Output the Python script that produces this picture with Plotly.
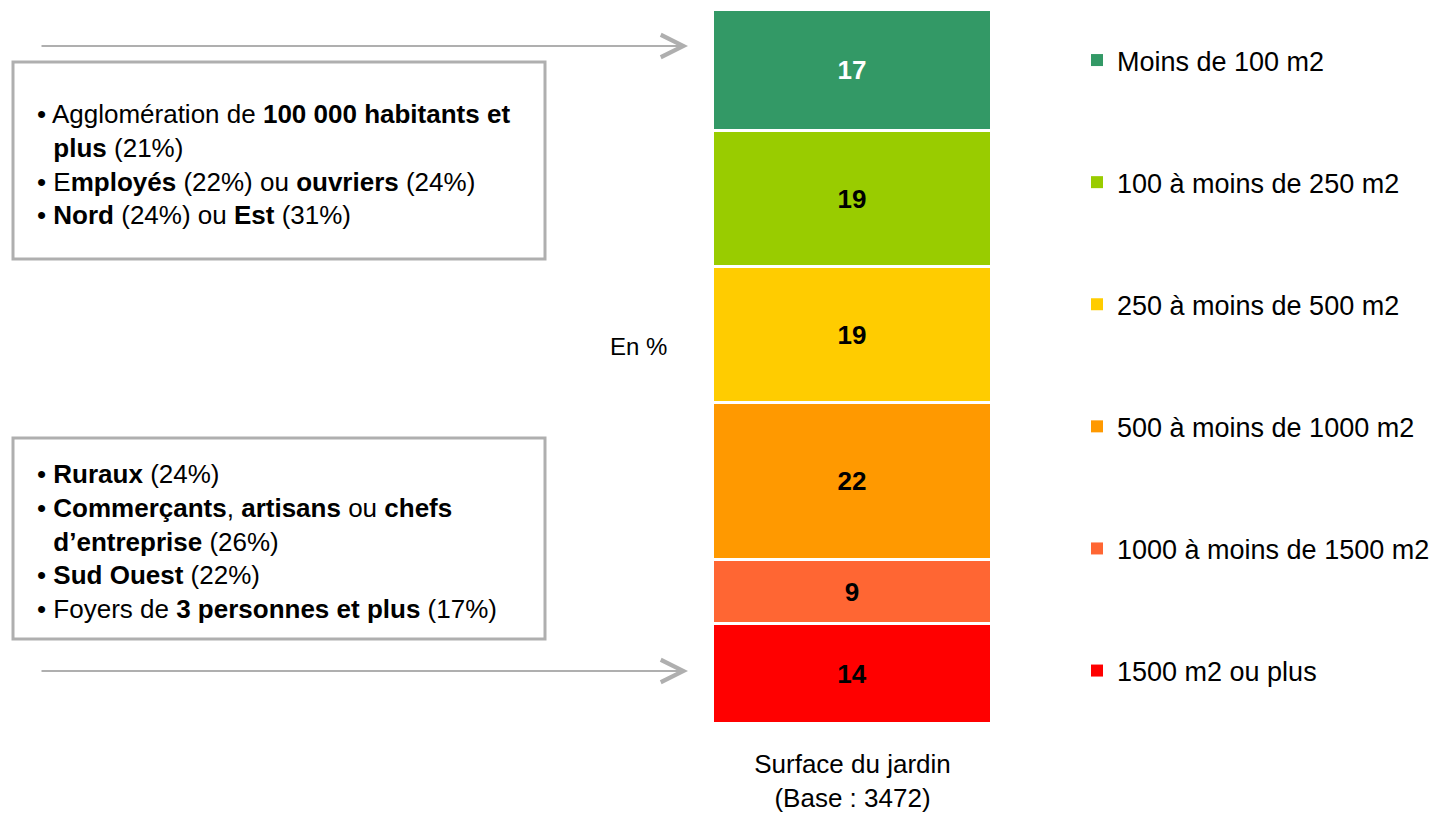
import plotly.graph_objects as go

OFF = 8                      # default page body margin
W, H = 1443 - OFF, 814 - OFF

# Data (bottom to top of the stack)
categories = ["1500 m2 ou plus", "1000 à moins de 1500 m2", "500 à moins de 1000 m2",
              "250 à moins de 500 m2", "100 à moins de 250 m2", "Moins de 100 m2"]
values = [14, 9, 22, 19, 19, 17]
colors = ["#FF0000", "#FF6633", "#FF9900", "#FFCC00", "#99CC00", "#339966"]
text_colors = ["black", "black", "black", "black", "black", "white"]
bar_label = "Surface du jardin<br>(Base : 3472)"

IND = "<span style='color:rgba(0,0,0,0)'>•</span> "
top_box_lines = [
    "• Agglomération de <b>100 000 habitants et</b>",
    IND + "<b>plus</b> (21%)",
    "• E<b>mployés</b> (22%) ou <b>ouvriers</b> (24%)",
    "• <b>Nord</b> (24%) ou <b>Est</b> (31%)",
]
bottom_box_lines = [
    "• <b>Ruraux</b> (24%)",
    "• <b>Commerçants</b>, <b>artisans</b> ou <b>chefs</b>",
    IND + "<b>d’entreprise</b> (26%)",
    "• <b>Sud Ouest</b> (22%)",
    "• Foyers de <b>3 personnes et plus</b> (17%)",
]

FONT = "Liberation Sans, Arial, sans-serif"

fig = go.Figure()
for cat, v, c, tc in zip(categories, values, colors, text_colors):
    fig.add_trace(go.Bar(
        x=[bar_label], y=[v], name=cat, showlegend=False,
        marker=dict(color=c, line=dict(color="white", width=3)),
        text=[str(v)], textposition="inside", insidetextanchor="middle",
        textfont=dict(family=FONT, size=26, color=tc, weight="bold"),
        width=1.0, hoverinfo="name+y",
    ))

# legend entries, top to bottom
for cat, c in zip(categories[::-1], colors[::-1]):
    fig.add_trace(go.Scatter(
        x=[None], y=[None], mode="markers", name=cat, legendgroup=cat,
        marker=dict(symbol="square", size=12, color=c, line=dict(width=0)),
        showlegend=True, hoverinfo="skip",
    ))


def px_x(p):
    return (p - OFF) / W


def px_y(p):
    return 1 - (p - OFF) / H


gray = "#AFAFAF"
shapes = [
    dict(type="rect", xref="paper", yref="paper", x0=px_x(13), x1=px_x(545),
         y0=px_y(259), y1=px_y(62), line=dict(color=gray, width=3)),
    dict(type="rect", xref="paper", yref="paper", x0=px_x(13), x1=px_x(545),
         y0=px_y(639), y1=px_y(438), line=dict(color=gray, width=3)),
]

annotations = [
    dict(xref="paper", yref="paper", x=px_x(35), y=px_y(164), xanchor="left", yanchor="middle",
         align="left", showarrow=False, text="<br>".join(top_box_lines),
         font=dict(family=FONT, size=26, color="black")),
    dict(xref="paper", yref="paper", x=px_x(35), y=px_y(541), xanchor="left", yanchor="middle",
         align="left", showarrow=False, text="<br>".join(bottom_box_lines),
         font=dict(family=FONT, size=26, color="black")),
    dict(xref="paper", yref="paper", x=px_x(638), y=px_y(347), xanchor="center", yanchor="middle",
         showarrow=False, text="En %", font=dict(family=FONT, size=24, color="black")),
]
for yy in (46, 671):
    annotations.append(dict(
        xref="paper", yref="paper", x=px_x(688), y=px_y(yy), text="",
        showarrow=True, axref="pixel", ayref="pixel", ax=-648, ay=0,
        arrowhead=5, arrowsize=2.2, arrowwidth=2, arrowcolor=gray, standoff=0,
    ))

fig.update_layout(
    width=W, height=H,
    margin=dict(l=0, r=0, t=0, b=0),
    paper_bgcolor="white", plot_bgcolor="white",
    barmode="stack", bargap=0,
    shapes=shapes, annotations=annotations,
    font=dict(family=FONT, size=24, color="black"),
    xaxis=dict(domain=[px_x(713), px_x(992)], showgrid=False, zeroline=False,
               showline=False, ticks="", tickfont=dict(family=FONT, size=26, color="black"),
               ticklabelstandoff=22),
    yaxis=dict(domain=[px_y(724), px_y(10)], range=[0, 100], visible=False),
    legend=dict(x=px_x(1077), y=px_y(36), xanchor="left", yanchor="top",
                traceorder="grouped", tracegroupgap=84,
                font=dict(family=FONT, size=27, color="black"),
                bgcolor="rgba(0,0,0,0)"),
    showlegend=True,
)

fig.write_html("out.html")
